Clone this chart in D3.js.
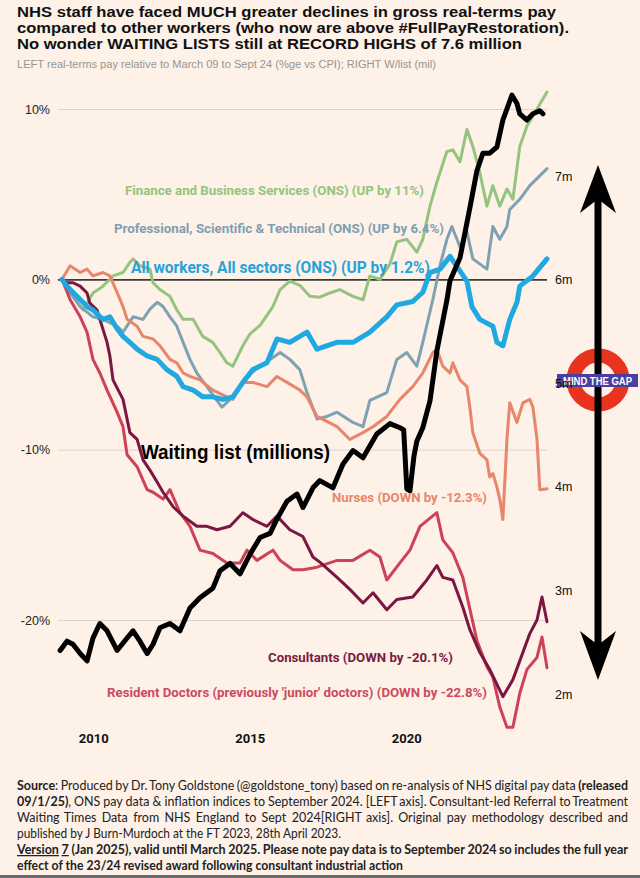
<!DOCTYPE html>
<html>
<head>
<meta charset="utf-8">
<script src="https://cdn.jsdelivr.net/npm/d3@7"></script>
<style>
  body { margin: 0; background: #fdf1e8; }
  svg { display: block; }
</style>
</head>
<body>
<div id="chart"></div>
<script>
// Tick values
var years = [2010, 2015, 2020];
var leftTicks = [10, 0, -10, -20];
var rightTicks = [2, 3, 4, 5, 6, 7];

// Real-terms pay vs March 09 (%) as [year, value]
var finance = [[2009.00, 0], [2009.20, -0.5], [2009.40, -1.1], [2009.67, -1.8], [2009.99, -0.8], [2010.31, -0.4],
  [2010.63, 0.2], [2010.95, 0.4], [2011.17, 1.0], [2011.27, 1.2], [2011.49, 0.8], [2011.81, 0.6], [2011.91, -0.2],
  [2012.13, -0.6], [2012.45, -1.0], [2012.67, -1.8], [2012.87, -2.35], [2013.19, -2.35], [2013.50, -3.35],
  [2013.82, -3.7], [2014.05, -4.3], [2014.27, -4.9], [2014.46, -5.1], [2014.78, -3.9], [2015.01, -3.2],
  [2015.33, -2.7], [2015.74, -1.6], [2015.97, -0.6], [2016.28, -0.1], [2016.60, -0.35], [2016.92, -1.0],
  [2017.24, -1.05], [2017.56, -0.8], [2017.88, -0.6], [2018.30, -1.0], [2018.62, -1.2], [2018.84, 0.2],
  [2019.16, 0], [2019.48, 0.9], [2019.70, 2.2], [2020.02, 2.35], [2020.34, 1.6], [2020.53, 2.35], [2020.76, 4.3],
  [2020.98, 5.7], [2021.30, 7.5], [2021.49, 7.6], [2021.72, 6.9], [2021.94, 8.8], [2022.13, 7.8], [2022.35, 6.3],
  [2022.58, 4.3], [2022.77, 5.5], [2022.99, 4.3], [2023.22, 5.3], [2023.41, 4.7], [2023.63, 7.8], [2023.86, 9.0],
  [2024.18, 10.0], [2024.50, 11.0]];

var professional = [[2009.00, 0], [2009.26, -0.8], [2009.58, -1.6], [2009.99, -2.2], [2010.31, -2.35],
  [2010.76, -2.75], [2010.95, -3.1], [2011.27, -2.2], [2011.59, -2.35], [2011.81, -1.75], [2012.04, -1.35],
  [2012.23, -1.6], [2012.45, -2.2], [2012.67, -2.75], [2012.87, -3.7], [2013.09, -4.7], [2013.31, -5.5],
  [2013.63, -6.3], [2013.95, -7.1], [2014.11, -7.5], [2014.46, -6.9], [2014.91, -5.7], [2015.33, -5.1],
  [2015.65, -4.7], [2015.97, -4.3], [2016.28, -4.7], [2016.60, -5.3], [2016.83, -6.65], [2017.15, -8.2],
  [2017.47, -8.05], [2017.79, -7.8], [2018.30, -8.4], [2018.62, -8.65], [2018.84, -7.1], [2019.38, -6.65],
  [2019.70, -4.7], [2020.02, -4.3], [2020.34, -5.1], [2020.53, -3.7], [2020.85, -1.2], [2021.08, 0.8],
  [2021.30, 2.35], [2021.46, 3.1], [2021.72, 1.9], [2021.94, 2.8], [2022.13, 1.2], [2022.58, 0.6], [2022.77, 3.1],
  [2022.99, 2.35], [2023.22, 3.1], [2023.31, 4.1], [2023.63, 4.7], [2023.95, 5.5], [2024.50, 6.5]];

var allWorkers = [[2009.00, 0], [2009.16, -0.4], [2009.80, -1.6], [2009.99, -1.8], [2010.31, -2.35],
  [2010.53, -2.2], [2010.76, -2.9], [2010.95, -3.35], [2011.17, -3.7], [2011.40, -4.1], [2011.72, -4.5],
  [2012.04, -4.7], [2012.35, -5.3], [2012.67, -5.7], [2012.87, -6.3], [2013.19, -6.5], [2013.50, -6.9],
  [2013.82, -6.9], [2014.14, -7.05], [2014.46, -6.9], [2014.78, -6.05], [2015.10, -5.3], [2015.55, -4.9],
  [2015.87, -3.5], [2016.28, -3.7], [2016.60, -3.35], [2016.83, -3.1], [2017.15, -4.1], [2017.79, -3.7],
  [2018.30, -3.7], [2018.84, -3.1], [2019.38, -2.2], [2019.70, -1.5], [2020.21, -1.3], [2020.53, -0.76],
  [2020.76, 0.4], [2021.08, 0.6], [2021.40, 1.35], [2021.62, 0.76], [2021.94, -0.1], [2022.10, -1.6],
  [2022.35, -2.35], [2022.77, -2.75], [2022.90, -3.7], [2023.09, -3.9], [2023.31, -2.35], [2023.54, -1.35],
  [2023.63, -0.4], [2024.05, 0.2], [2024.50, 1.2]];

var nurses = [[2009.00, 0], [2009.26, 0.8], [2009.58, 0.4], [2009.80, 0.6], [2009.99, 0.2], [2010.31, 0.4],
  [2010.53, 0.2], [2010.76, -0.76], [2010.95, -1.6], [2011.08, -2.35], [2011.40, -2.75], [2011.59, -3.35],
  [2011.91, -3.5], [2012.13, -3.9], [2012.45, -4.7], [2012.67, -4.9], [2012.87, -5.5], [2013.09, -5.7],
  [2013.41, -5.9], [2013.82, -6.5], [2014.27, -6.9], [2014.46, -7.05], [2014.78, -6.05], [2015.10, -6.05],
  [2015.55, -6.3], [2015.87, -5.7], [2016.19, -6.05], [2016.60, -6.5], [2016.83, -6.9], [2017.15, -8.05],
  [2017.79, -8.65], [2018.20, -9.4], [2018.62, -9.0], [2018.94, -8.65], [2019.38, -8.05], [2019.80, -7.05],
  [2020.21, -6.3], [2020.53, -5.5], [2020.85, -4.3], [2020.98, -4.1], [2021.17, -5.1], [2021.40, -5.5],
  [2021.49, -4.9], [2021.72, -5.9], [2021.94, -6.3], [2022.04, -7.6], [2022.13, -9.0], [2022.35, -10.2],
  [2022.58, -10.6], [2022.67, -11.6], [2022.77, -11.4], [2022.90, -12.2], [2022.99, -12.9], [2023.09, -14.1],
  [2023.22, -9.4], [2023.31, -7.25], [2023.54, -8.4], [2023.73, -7.25], [2023.95, -7.05], [2024.05, -7.5],
  [2024.18, -9.4], [2024.27, -12.35], [2024.50, -12.3]];

var consultants = [[2009.00, 0], [2009.16, -0.2], [2009.35, -0.2], [2009.58, -0.4], [2009.80, -0.8],
  [2009.89, -1.4], [2010.12, -1.8], [2010.21, -2.35], [2010.44, -3.7], [2010.53, -4.5], [2010.63, -5.9],
  [2010.95, -7.05], [2011.17, -9.0], [2011.40, -9.4], [2011.59, -10.6], [2011.81, -11.2], [2012.04, -11.9],
  [2012.23, -12.5], [2012.55, -13.35], [2012.87, -13.9], [2013.31, -14.5], [2013.63, -14.5], [2013.95, -14.7],
  [2014.37, -14.5], [2014.78, -13.7], [2015.10, -14.1], [2015.55, -14.5], [2015.87, -13.9], [2016.28, -14.7],
  [2016.70, -15.1], [2017.02, -16.3], [2017.24, -16.6], [2017.79, -17.5], [2018.20, -18.2], [2018.62, -19.0],
  [2018.94, -18.4], [2019.38, -19.4], [2019.70, -18.8], [2020.21, -18.65], [2020.66, -17.65], [2020.98, -16.8],
  [2021.17, -17.5], [2021.49, -17.65], [2021.81, -19.25], [2022.04, -20.6], [2022.35, -21.9], [2022.67, -22.9],
  [2023.09, -24.5], [2023.41, -23.5], [2023.73, -21.9], [2023.95, -20.8], [2024.18, -20.0], [2024.34, -18.65],
  [2024.50, -20.1]];

var residentDoctors = [[2009.00, 0], [2009.13, -0.6], [2009.26, -1.2], [2009.58, -2.2], [2009.80, -3.1],
  [2009.99, -4.7], [2010.21, -5.5], [2010.44, -6.5], [2010.76, -7.8], [2010.95, -8.65], [2011.08, -10.3],
  [2011.40, -11.0], [2011.72, -12.35], [2011.91, -12.5], [2012.23, -12.9], [2012.45, -12.35], [2012.77, -13.7],
  [2013.09, -14.5], [2013.41, -15.9], [2013.82, -16.1], [2014.27, -16.65], [2014.69, -16.65], [2014.91, -15.9],
  [2015.23, -16.5], [2015.74, -15.9], [2015.97, -16.5], [2016.38, -17.05], [2016.70, -17.05], [2017.15, -16.9],
  [2017.79, -16.5], [2018.30, -16.5], [2018.84, -15.9], [2019.16, -16.3], [2019.38, -17.65], [2019.80, -16.65],
  [2020.12, -15.9], [2020.44, -14.5], [2020.98, -13.7], [2021.17, -15.3], [2021.49, -16.05], [2021.81, -17.5],
  [2022.04, -19.4], [2022.26, -21.2], [2022.58, -22.75], [2022.77, -23.35], [2022.99, -25.1], [2023.22, -26.3],
  [2023.41, -26.3], [2023.63, -24.3], [2023.86, -22.9], [2024.18, -22.2], [2024.34, -21.0], [2024.50, -22.8]];

// RTT waiting list (millions), right axis
var waitingList = [[2008.94, 2.42], [2009.16, 2.51], [2009.35, 2.48], [2009.58, 2.39], [2009.80, 2.32],
  [2009.99, 2.54], [2010.21, 2.68], [2010.44, 2.61], [2010.76, 2.42], [2011.08, 2.54], [2011.27, 2.61],
  [2011.49, 2.51], [2011.72, 2.39], [2011.91, 2.48], [2012.13, 2.64], [2012.45, 2.68], [2012.77, 2.61],
  [2013.09, 2.83], [2013.41, 2.93], [2013.82, 3.02], [2014.05, 3.19], [2014.37, 3.26], [2014.69, 3.16],
  [2015.01, 3.35], [2015.33, 3.51], [2015.65, 3.55], [2015.87, 3.69], [2016.19, 3.86], [2016.51, 3.93],
  [2016.70, 3.80], [2017.02, 3.99], [2017.24, 4.06], [2017.66, 3.99], [2017.98, 4.22], [2018.30, 4.35],
  [2018.62, 4.28], [2019.06, 4.51], [2019.48, 4.61], [2019.80, 4.57], [2019.92, 4.55], [2020.02, 3.98],
  [2020.12, 3.96], [2020.25, 4.30], [2020.34, 4.44], [2020.53, 4.57], [2020.76, 4.83], [2020.98, 5.31],
  [2021.30, 5.80], [2021.40, 5.99], [2021.72, 6.21], [2022.04, 6.70], [2022.26, 7.05], [2022.45, 7.22],
  [2022.67, 7.22], [2022.90, 7.28], [2023.09, 7.54], [2023.38, 7.78], [2023.54, 7.70], [2023.63, 7.60],
  [2023.86, 7.54], [2024.05, 7.60], [2024.27, 7.63], [2024.37, 7.60]];

var titleLines = ["NHS staff have faced MUCH greater declines in gross real-terms pay",
  "compared to other workers (who now are above #FullPayRestoration).",
  "No wonder WAITING LISTS still at RECORD HIGHS of 7.6 million"];
var subtitle = "LEFT real-terms pay relative to March 09 to Sept 24 (%ge vs CPI); RIGHT W/list (mil)";

var footerLines = [
  [["Source", "b"], [": Produced by Dr. Tony Goldstone (@goldstone_tony) based on re-analysis of NHS digital pay data", ""], [" (released", "b"]],
  [["09/1/25)", "b"], [", ONS pay data & inflation indices to September 2024. [LEFT axis]. Consultant-led Referral to Treatment", ""]],
  [["Waiting Times Data from NHS England to Sept 2024[RIGHT axis]. Original pay methodology described and", ""]],
  [["published by J Burn-Murdoch at the FT 2023, 28th April 2023.", ""]],
  [["Version 7", "bu"], [" (Jan 2025), valid until March 2025. Please note pay data is to September 2024 so includes the full year", "b"]],
  [["effect of the 23/24 revised award following consultant industrial action", "b"]]
];

var width = 640, height = 878, bg = "#fdf1e8";

var svg = d3.select("#chart").append("svg")
  .attr("width", width)
  .attr("height", height);

svg.append("rect").attr("width", width).attr("height", height).attr("fill", bg);

// Scales
var xScale = d3.scaleLinear().domain([2009, 2024.5]).range([62, 547]);
var yLeft = d3.scaleLinear().domain([-20, 10]).range([620, 109]);
var yRight = d3.scaleLinear().domain([2, 7]).range([694, 176]);

// Title
svg.selectAll(".title")
  .data(titleLines).enter()
  .append("text")
  .attr("class", "title")
  .attr("x", 17)
  .attr("y", function(d, i) { return 17 + i * 16; })
  .attr("textLength", function(d, i) { return [539, 552, 505][i]; })
  .attr("lengthAdjust", "spacingAndGlyphs")
  .style("font-family", "'Liberation Sans', Arial, sans-serif")
  .style("font-weight", "bold")
  .style("font-size", "14.5px")
  .attr("fill", "#111")
  .text(function(d) { return d; });

svg.append("text")
  .attr("x", 17).attr("y", 68)
  .attr("textLength", 419).attr("lengthAdjust", "spacingAndGlyphs")
  .style("font-family", "'Liberation Sans', Arial, sans-serif")
  .style("font-size", "10px")
  .attr("fill", "#9a9590")
  .text(subtitle);

// Left axis with gridlines
var yAxisLeft = d3.axisLeft(yLeft)
  .tickValues(leftTicks)
  .tickFormat(function(d) { return d + "%"; })
  .tickSize(-(547 - 58))
  .tickPadding(8);

var gLeft = svg.append("g")
  .attr("class", "y axis left")
  .attr("transform", "translate(58,0)")
  .call(yAxisLeft);
gLeft.select(".domain").remove();
gLeft.selectAll("line")
  .attr("stroke", function(d) { return d === 0 ? "#3d3a38" : "#ddd3ca"; })
  .attr("stroke-width", function(d) { return d === 0 ? 1.8 : 1; });
gLeft.selectAll("text")
  .style("font-family", "'Liberation Sans', Arial, sans-serif")
  .style("font-size", "12.5px")
  .attr("fill", "#222");

// X axis
var xAxis = d3.axisBottom(xScale)
  .tickValues(years)
  .tickFormat(d3.format("d"))
  .tickSize(0)
  .tickPadding(4);

var gX = svg.append("g")
  .attr("class", "x axis")
  .attr("transform", "translate(0,730)")
  .call(xAxis);
gX.select(".domain").remove();
gX.selectAll("text")
  .style("font-family", "Roboto, 'Liberation Sans', sans-serif")
  .style("font-weight", "bold")
  .style("font-size", "13px")
  .attr("fill", "#111");

// Lines
var payLine = d3.line()
  .x(function(d) { return xScale(d[0]); })
  .y(function(d) { return yLeft(d[1]); });

var waitLine = d3.line()
  .x(function(d) { return xScale(d[0]); })
  .y(function(d) { return yRight(d[1]); });

var paySeries = [
  {data: finance, color: "#94c47d", w: 3},
  {data: professional, color: "#7fa2b3", w: 3},
  {data: nurses, color: "#e8866b", w: 3},
  {data: residentDoctors, color: "#cd4258", w: 3},
  {data: consultants, color: "#7a1640", w: 3},
  {data: allWorkers, color: "#20a8e0", w: 5}
];

svg.selectAll(".payLine")
  .data(paySeries).enter()
  .append("path")
  .attr("class", "payLine")
  .attr("d", function(d) { return payLine(d.data); })
  .attr("fill", "none")
  .attr("stroke", function(d) { return d.color; })
  .attr("stroke-width", function(d) { return d.w; })
  .attr("stroke-linejoin", "round")
  .attr("stroke-linecap", "round");

svg.append("path")
  .datum(waitingList)
  .attr("class", "waitLine")
  .attr("d", waitLine)
  .attr("fill", "none")
  .attr("stroke", "#000")
  .attr("stroke-width", 5)
  .attr("stroke-linejoin", "round")
  .attr("stroke-linecap", "round");

// Series labels
var labels = [
  {text: "Finance and Business Services (ONS) (UP by 11%)", color: "#94c47d", x: 125, y: 195, size: 12.5, len: 299},
  {text: "Professional, Scientific & Technical (ONS) (UP by 6.4%)", color: "#7f9fb0", x: 114, y: 233, size: 12.5, len: 330},
  {text: "All workers, All sectors (ONS) (UP by 1.2%)", color: "#23a3da", x: 131, y: 273, size: 16, len: 299},
  {text: "Waiting list (millions)", color: "#000", x: 141, y: 459, size: 19.5, len: 189},
  {text: "Nurses (DOWN by -12.3%)", color: "#e8866b", x: 332, y: 502, size: 12.5, len: 155},
  {text: "Consultants (DOWN by -20.1%)", color: "#7a1a40", x: 268, y: 662, size: 12.5, len: 185},
  {text: "Resident Doctors (previously 'junior' doctors) (DOWN by -22.8%)", color: "#cc4a5e", x: 107, y: 697, size: 12.5, len: 380}
];

svg.selectAll(".seriesLabel")
  .data(labels).enter()
  .append("text")
  .attr("class", "seriesLabel")
  .attr("x", function(d) { return d.x; })
  .attr("y", function(d) { return d.y; })
  .attr("textLength", function(d) { return d.len; })
  .attr("lengthAdjust", "spacingAndGlyphs")
  .style("font-family", function(d) { return d.color === "#000" ? "'Liberation Sans', Arial, sans-serif" : "Roboto, sans-serif"; })
  .style("font-weight", "bold")
  .style("font-size", function(d) { return d.size + "px"; })
  .attr("fill", function(d) { return d.color; })
  .text(function(d) { return d.text; });

// Mind the gap roundel and arrow
var gap = svg.append("g").attr("class", "gap");
gap.append("circle")
  .attr("cx", 598).attr("cy", 380).attr("r", 24.5)
  .attr("fill", "none").attr("stroke", "#e8331f").attr("stroke-width", 14);
gap.append("line")
  .attr("x1", 598).attr("x2", 598).attr("y1", 195).attr("y2", 650)
  .attr("stroke", "#000").attr("stroke-width", 7);
gap.append("path")
  .attr("d", "M598,165 L616,213 L598,199 L580,213 Z")
  .attr("fill", "#000");
gap.append("path")
  .attr("d", "M598,680 L616,631 L598,645 L580,631 Z")
  .attr("fill", "#000");
gap.append("rect")
  .attr("x", 557).attr("y", 374).attr("width", 81).attr("height", 13)
  .attr("fill", "#4a3f9c");
gap.append("text")
  .attr("x", 563).attr("y", 384.5)
  .attr("textLength", 69).attr("lengthAdjust", "spacingAndGlyphs")
  .style("font-family", "'Liberation Sans', Arial, sans-serif")
  .style("font-weight", "bold")
  .style("font-size", "10.5px")
  .attr("fill", "#fff")
  .text("MIND THE GAP");

// Right axis
var yAxisRight = d3.axisRight(yRight)
  .tickValues(rightTicks)
  .tickFormat(function(d) { return d + "m"; })
  .tickSize(0)
  .tickPadding(0);

var gRight = svg.append("g")
  .attr("class", "y axis right")
  .attr("transform", "translate(555,0)")
  .call(yAxisRight);
gRight.select(".domain").remove();
gRight.selectAll("text")
  .style("font-family", "'Liberation Sans', Arial, sans-serif")
  .style("font-size", "12.5px")
  .attr("fill", "#111");

// Footer notes: justified lines get one x per word, the short ones are just fitted
var footerJustify = [true, true, true, false, true, false];
var footerWidths = [611, 611, 611, 324, 611, 386];
var footerSize = 12.5;

footerLines.forEach(function(line, i) {
  var t = svg.append("text")
    .attr("class", "footer")
    .attr("x", 17)
    .attr("y", 790 + i * 16)
    .style("font-family", "Lato, 'Open Sans', sans-serif")
    .style("font-size", footerSize + "px")
    .attr("fill", "#222");

  if (!footerJustify[i]) {
    line.forEach(function(seg) {
      var ts = t.append("tspan").text(seg[0]);
      if (seg[1].indexOf("b") >= 0) ts.style("font-weight", "bold");
    });
    t.attr("textLength", footerWidths[i]).attr("lengthAdjust", "spacingAndGlyphs");
    return;
  }

  var words = [];
  line.forEach(function(seg) {
    seg[0].split(" ").forEach(function(w, k) {
      if (w === "") return;
      var glued = k === 0 && seg[0].charAt(0) !== " " && words.length > 0;
      words.push({text: w, style: seg[1], glued: glued});
    });
  });

  var spans = t.selectAll("tspan")
    .data(words).enter()
    .append("tspan")
    .style("font-weight", function(d) { return d.style.indexOf("b") >= 0 ? "bold" : "normal"; })
    .style("text-decoration", function(d) { return d.style.indexOf("u") >= 0 ? "underline" : "none"; })
    .text(function(d) { return d.text; });

  var target = footerWidths[i];
  var measure = function() {
    spans.each(function(d) { d.w = this.getComputedTextLength(); });
    return d3.sum(words, function(d) { return d.w; });
  };
  var gaps = words.filter(function(d, k) { return k > 0 && !d.glued; }).length;

  var sum = measure();
  var minGap = footerSize * 0.2;
  if (sum + gaps * minGap > target) {
    t.style("font-size", (footerSize * (target - gaps * minGap) / sum) + "px");
    sum = measure();
  }
  var step = (target - sum) / gaps;

  var x = 17;
  spans.attr("x", function(d, k) {
    if (k > 0 && !d.glued) x += step;
    var here = x;
    x += d.w;
    return here;
  });
});

svg.append("line")
  .attr("x1", 0).attr("x2", width).attr("y1", 876.5).attr("y2", 876.5)
  .attr("stroke", "#6b6b6b").attr("stroke-width", 3);
</script>
</body>
</html>
